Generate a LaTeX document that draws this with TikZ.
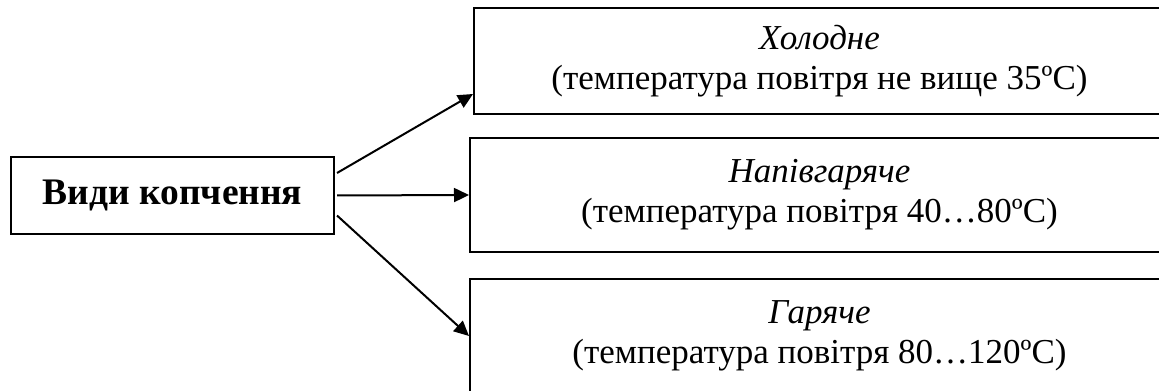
\documentclass[tikz,border=0pt]{standalone}
\usepackage{fontspec}
\setmainfont{Liberation Serif}
\usepackage{tikz}
\usetikzlibrary{arrows.meta}
\tikzset{
    main style/.style={draw, rectangle, line width=0.8pt, minimum width=129.2pt, minimum height=30.8pt, inner sep=0pt, text centered, font=\fontsize{15}{17}\selectfont\bfseries},
    kind style/.style={draw, rectangle, line width=0.8pt, minimum height=45.6pt, inner sep=0pt, align=center, font=\fontsize{14}{16}\selectfont},
    arrow style/.style={-{Triangle[length=6pt,width=5.6pt]}, line width=0.8pt},
}

\begin{document}
\begin{tikzpicture}[x=0.4pt, y=-0.4pt]
        \useasboundingbox (0,0) rectangle (1159,391);
        \clip (0,0) rectangle (1159,391);
        \node (vydy) [main style] at (172.5,195.5) {Види копчення};
        \node (kholodne) [kind style, minimum width=276.4pt, minimum height=42.4pt] at (819.5,61) {\textit{Холодне}\\(температура повітря не вище 35ºС)};
        \node (napiv) [kind style, minimum width=279.6pt] at (819.5,195) {\textit{Напівгаряче}\\(температура повітря 40…80ºС)};
        \node (haryache) [kind style, minimum width=279.6pt] at (819.5,336) {\textit{Гаряче}\\(температура повітря 80…120ºС)};

        \draw [arrow style] ([xshift=0.8pt, yshift=9pt]vydy.east) -- ([yshift=8.4pt]kholodne.south west);
        \draw [arrow style] ([xshift=0.8pt]vydy.east) -- (napiv.west);
        \draw [arrow style] ([xshift=0.8pt, yshift=-8pt]vydy.east) -- ([yshift=-23.2pt]haryache.north west);
    \end{tikzpicture}
\end{document}
